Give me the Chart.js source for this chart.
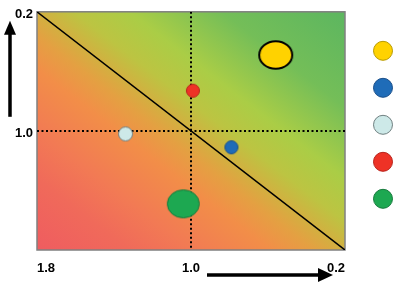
<!DOCTYPE html>
<html>
<head>
<meta charset="utf-8">
<script src="https://cdn.jsdelivr.net/npm/chart.js@4.4.1/dist/chart.umd.min.js"></script>
<style>
    html, body { margin: 0; padding: 0; background: #ffffff; }
    #wrap { width: 400px; height: 287px; position: relative; }
</style>
</head>
<body>
<div id="wrap"><canvas id="matrixChart"></canvas></div>
<script>
// bubble data (legend order: yellow, blue, light blue, red, green)
const seriesNames = ['Yellow', 'Blue', 'Light blue', 'Red', 'Green'];
const xValues = [0.56, 0.79, 1.34, 0.99, 1.04];
const yValues = [0.49, 1.11, 1.02, 0.73, 1.49];
const sizeX = [17.5, 7, 7.5, 7, 16.5];
const sizeY = [14.8, 7, 7.5, 7, 14.5];
const fillColors = ['#ffd200', '#1f6cb8', '#cde9e8', '#ee3226', '#1da851'];
const edgeColors = ['#000000', '#1a4f8a', '#6f7f80', '#b8231b', '#167a3c'];

const xTicks = [0.2, 1.0, 1.8];
const yTicks = [0.2, 1.0];
const axisMin = 0.2;
const axisMid = 1.0;
const axisMax = 1.8;

function ellipseImage(rx, ry, fill, stroke, lineWidth) {
    const c = document.createElement('canvas');
    c.width = Math.ceil(rx * 2 + 2);
    c.height = Math.ceil(ry * 2 + 2);
    const ctx = c.getContext('2d');
    ctx.beginPath();
    ctx.ellipse(c.width / 2, c.height / 2, rx - lineWidth / 2, ry - lineWidth / 2, 0, 0, Math.PI * 2);
    ctx.fillStyle = fill;
    ctx.fill();
    ctx.lineWidth = lineWidth;
    ctx.strokeStyle = stroke;
    ctx.stroke();
    return c;
}

const backgroundPlugin = {
    id: 'quadBackground',
    beforeDatasetsDraw(chart) {
        const a = chart.chartArea;
        const ctx = chart.ctx;
        const w = a.right - a.left;
        const h = a.bottom - a.top;
        const cx = (a.left + a.right) / 2;
        const cy = (a.top + a.bottom) / 2;
        const len = Math.sqrt(w * w + h * h);
        const ux = h / len;
        const uy = -w / len;
        const half = (w / 2 * h + h / 2 * w) / len;
        const g = ctx.createLinearGradient(cx - ux * half, cy - uy * half, cx + ux * half, cy + uy * half);
        g.addColorStop(0, '#ef5c60');
        g.addColorStop(0.15, '#f06a5a');
        g.addColorStop(0.25, '#f27a54');
        g.addColorStop(0.38, '#f28e48');
        g.addColorStop(0.45, '#e4a042');
        g.addColorStop(0.5, '#d2b040');
        g.addColorStop(0.56, '#bcc442');
        g.addColorStop(0.65, '#aacd46');
        g.addColorStop(0.8, '#74be58');
        g.addColorStop(1, '#5cb660');
        ctx.save();
        ctx.fillStyle = g;
        ctx.fillRect(a.left, a.top, w, h);
        ctx.lineWidth = 1.5;
        ctx.strokeStyle = '#808080';
        ctx.strokeRect(a.left, a.top, w, h);
        ctx.restore();
    },
    afterDraw(chart) {
        const a = chart.chartArea;
        const ctx = chart.ctx;
        ctx.save();
        ctx.fillStyle = '#000';
        ctx.strokeStyle = '#000';
        ctx.lineWidth = 3.5;

        // vertical arrow
        const vx = a.left - 27;
        ctx.beginPath();
        ctx.moveTo(vx, a.top + 105);
        ctx.lineTo(vx, a.top + 20);
        ctx.stroke();
        ctx.beginPath();
        ctx.moveTo(vx - 6, a.top + 23);
        ctx.lineTo(vx + 6, a.top + 23);
        ctx.lineTo(vx, a.top + 9);
        ctx.closePath();
        ctx.fill();

        // horizontal arrow
        const hy = a.bottom + 25;
        ctx.beginPath();
        ctx.moveTo(a.left + 170, hy);
        ctx.lineTo(a.right - 25, hy);
        ctx.stroke();
        ctx.beginPath();
        ctx.moveTo(a.right - 27, hy - 7);
        ctx.lineTo(a.right - 27, hy + 7);
        ctx.lineTo(a.right - 12, hy);
        ctx.closePath();
        ctx.fill();

        // legend markers without text
        const lx = a.right + 38;
        chart.data.datasets.forEach(function (ds) {
            if (!ds.legendFill) return;
            const ly = a.top + 39 + ds.legendIndex * 37;
            ctx.beginPath();
            ctx.arc(lx, ly, 9.5, 0, Math.PI * 2);
            ctx.fillStyle = ds.legendFill;
            ctx.fill();
            ctx.lineWidth = 1;
            ctx.strokeStyle = ds.legendEdge;
            ctx.stroke();
        });
        ctx.restore();
    }
};

const datasets = [];

datasets.push({
    type: 'line',
    data: [{ x: axisMax, y: axisMin }, { x: axisMin, y: axisMax }],
    borderColor: '#000',
    borderWidth: 1.5,
    pointRadius: 0,
    order: 3
});
datasets.push({
    type: 'line',
    data: [{ x: axisMid, y: axisMin }, { x: axisMid, y: axisMax }],
    borderColor: '#000',
    borderWidth: 2,
    borderDash: [2, 2.5],
    pointRadius: 0,
    order: 2
});
datasets.push({
    type: 'line',
    data: [{ x: axisMin, y: axisMid }, { x: axisMax, y: axisMid }],
    borderColor: '#000',
    borderWidth: 2,
    borderDash: [2, 2.5],
    pointRadius: 0,
    order: 2
});

seriesNames.forEach(function (name, i) {
    const border = i === 0 ? 2 : 1;
    datasets.push({
        type: 'scatter',
        label: name,
        data: [{ x: xValues[i], y: yValues[i] }],
        pointStyle: ellipseImage(sizeX[i], sizeY[i], fillColors[i], edgeColors[i], border),
        legendFill: fillColors[i],
        legendEdge: i === 0 ? '#b89a00' : edgeColors[i],
        legendIndex: i,
        order: 1
    });
});

const tickFont = { family: 'Arial, "Liberation Sans", sans-serif', size: 13, weight: 'bold' };

new Chart(document.getElementById('matrixChart'), {
    type: 'scatter',
    data: { datasets: datasets },
    plugins: [backgroundPlugin],
    options: {
        responsive: true,
        maintainAspectRatio: false,
        animation: false,
        layout: { padding: { left: 0, right: 55, top: 10, bottom: 0 } },
        plugins: {
            legend: { display: false },
            tooltip: { enabled: false }
        },
        scales: {
            x: {
                type: 'linear',
                reverse: true,
                min: axisMin,
                max: axisMax,
                grid: { display: false, drawTicks: false },
                border: { display: false },
                afterBuildTicks: function (scale) {
                    scale.ticks = xTicks.map(function (v) { return { value: v }; });
                },
                afterFit: function (scale) { scale.height = 37; },
                ticks: {
                    align: 'inner',
                    padding: 11,
                    color: '#000',
                    font: tickFont,
                    callback: function (v) { return Number(v).toFixed(1); }
                }
            },
            y: {
                type: 'linear',
                reverse: true,
                min: axisMin,
                max: axisMax,
                grid: { display: false, drawTicks: false },
                border: { display: false },
                afterBuildTicks: function (scale) {
                    scale.ticks = yTicks.map(function (v) { return { value: v }; });
                },
                afterFit: function (scale) { scale.width = 37; },
                ticks: {
                    padding: 4,
                    labelOffset: 3,
                    color: '#000',
                    font: tickFont,
                    callback: function (v) { return Number(v).toFixed(1); }
                }
            }
        }
    }
});
</script>
</body>
</html>
